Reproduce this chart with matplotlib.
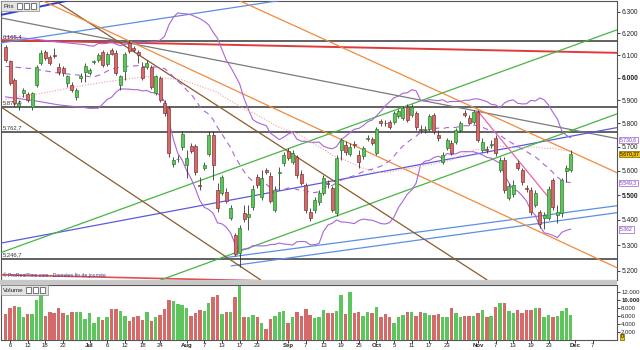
import numpy as np
import pandas as pd
import matplotlib
matplotlib.use("Agg")
import matplotlib.pyplot as plt
import matplotlib.transforms as mtransforms
from matplotlib.patches import Rectangle, FancyBboxPatch
from matplotlib.ticker import NullLocator

plt.rcParams['font.family'] = ['Liberation Sans', 'DejaVu Sans']

# ---------------- data ----------------
opens = [6138, 6076, 5991, 5875, 5933, 5929, 5871, 5969, 6067, 6116,
         6093, 6102, 6049, 6044, 5978, 5969, 5916, 5996, 6027, 6022,
         6069, 6080, 6116, 6062, 6125, 6111, 5969, 6031, 6156, 6134,
         6116, 6049, 6049, 6049, 5933, 5996, 5888, 5867, 5629, 5647,
         5701, 5625, 5705, 5705, 5543, 5612, 5671, 5752, 5522, 5510,
         5514, 5408, 5341, 5271, 5429, 5412, 5453, 5576, 5494, 5604,
         5580, 5441, 5592, 5633, 5684, 5637, 5658, 5588, 5543, 5433,
         5441, 5474, 5510, 5551, 5531, 5429, 5688, 5709, 5671, 5714,
         5667, 5662, 5735, 5735, 5675, 5811, 5803, 5807, 5807, 5833,
         5824, 5871, 5837, 5845, 5777, 5773, 5777, 5837, 5752, 5637,
         5696, 5718, 5722, 5773, 5845, 5824, 5807, 5850, 5688, 5690,
         5709, 5739, 5604, 5645, 5490, 5506, 5633, 5604, 5529, 5522,
         5461, 5433, 5408, 5408, 5563, 5421, 5429, 5600, 5604]
highs = [6147, 6080, 5996, 5901, 5955, 5938, 5938, 6058, 6125, 6125,
         6102, 6134, 6067, 6053, 6013, 5982, 5955, 6022, 6067, 6044,
         6080, 6111, 6125, 6116, 6134, 6125, 6013, 6116, 6169, 6142,
         6125, 6071, 6080, 6058, 6013, 6005, 5901, 5875, 5658, 5667,
         5769, 5688, 5718, 5714, 5576, 5637, 5769, 5769, 5551, 5584,
         5531, 5461, 5349, 5380, 5461, 5461, 5543, 5588, 5604, 5612,
         5596, 5539, 5616, 5679, 5696, 5688, 5667, 5604, 5551, 5449,
         5494, 5522, 5584, 5563, 5539, 5667, 5739, 5726, 5718, 5726,
         5688, 5705, 5752, 5743, 5786, 5820, 5816, 5816, 5854, 5863,
         5875, 5884, 5884, 5854, 5794, 5790, 5841, 5845, 5773, 5679,
         5739, 5730, 5782, 5811, 5858, 5837, 5858, 5858, 5739, 5705,
         5730, 5752, 5658, 5658, 5551, 5563, 5645, 5612, 5543, 5535,
         5522, 5441, 5433, 5539, 5571, 5461, 5571, 5625, 5688]
lows = [6071, 5969, 5875, 5858, 5916, 5892, 5858, 5960, 6058, 6080,
        6058, 6089, 6013, 6009, 5960, 5938, 5901, 5982, 5982, 6013,
        6062, 6071, 6049, 6053, 6102, 6013, 5947, 5991, 6111, 6116,
        6067, 5991, 6040, 5951, 5925, 5892, 5833, 5658, 5616, 5637,
        5688, 5571, 5675, 5584, 5522, 5604, 5662, 5563, 5433, 5502,
        5469, 5400, 5259, 5216, 5392, 5361, 5441, 5531, 5482, 5588,
        5469, 5433, 5522, 5621, 5645, 5629, 5571, 5543, 5429, 5396,
        5429, 5461, 5502, 5531, 5433, 5416, 5645, 5667, 5662, 5696,
        5612, 5649, 5726, 5709, 5667, 5790, 5790, 5777, 5799, 5824,
        5816, 5807, 5828, 5773, 5760, 5760, 5769, 5756, 5726, 5629,
        5688, 5667, 5714, 5765, 5828, 5794, 5799, 5722, 5679, 5675,
        5696, 5662, 5596, 5510, 5482, 5494, 5604, 5543, 5514, 5421,
        5453, 5369, 5365, 5400, 5441, 5388, 5412, 5555, 5596]
closes = [6080, 5978, 5888, 5888, 5947, 5901, 5933, 6049, 6111, 6089,
          6067, 6098, 6027, 6022, 6005, 5947, 5947, 6009, 6053, 6036,
          6073, 6102, 6058, 6107, 6107, 6022, 6005, 6107, 6120, 6125,
          6102, 6000, 6067, 5960, 6005, 5901, 5845, 5675, 5645, 5649,
          5756, 5654, 5684, 5596, 5539, 5625, 5752, 5625, 5449, 5576,
          5478, 5449, 5267, 5369, 5404, 5425, 5527, 5543, 5571, 5596,
          5478, 5522, 5596, 5667, 5654, 5675, 5584, 5551, 5441, 5408,
          5482, 5510, 5571, 5547, 5441, 5654, 5730, 5679, 5701, 5709,
          5637, 5696, 5739, 5718, 5777, 5803, 5801, 5786, 5845, 5854,
          5867, 5816, 5871, 5786, 5773, 5775, 5833, 5769, 5739, 5667,
          5730, 5675, 5773, 5803, 5837, 5803, 5850, 5730, 5722, 5688,
          5711, 5675, 5645, 5522, 5539, 5543, 5612, 5555, 5527, 5433,
          5510, 5384, 5421, 5527, 5453, 5433, 5563, 5612, 5670.37]
volume = [6450, 7900, 8500, 8100, 5600, 6400, 6400, 9900, 11600,
          6000, 7000, 6800, 7900, 6800, 6200, 7000, 6900, 6900, 5200,
          6600, 4300, 5800, 5000, 5600, 7600, 7600, 7300, 6000, 4800,
          5600, 6000, 5000, 7000, 4800, 5800, 6300, 7700,
          9900, 9800,
          8900, 8800, 7900, 6000, 6800, 7500, 7300, 9300,
          10600, 11200,
          6400, 7000, 7000,
          10700, 13400,
          5800, 5800, 6200, 5600, 4300, 2700, 5200, 6000, 7000, 7200,
          4300, 5600, 7000, 6000, 7600, 6200, 5400, 5600,
          7400, 6600, 6600, 7200, 11200, 6400, 12000, 6600, 7000, 5950,
          7000, 6800, 8300, 5800, 6500, 5600, 4100, 5600, 6200, 6900,
          7000, 5950, 7000, 6600, 6200, 6100, 6500, 5800,
          5800, 7900, 6800, 5800, 5950, 5950, 6000, 6800, 7400, 5800,
          5950, 8300,
          9300, 9300,
          7300, 6800, 7400, 6800, 7400, 7400, 8000, 7900, 5800, 6200,
          5600, 5900, 7200, 8000, 6100]

# Bollinger (20, 2) / SMA 50 values before enough history
bb_early_idx = [0, 6, 12, 18]
bb_up_early = [6185, 6175, 6160, 6148]
bb_mid_early = [6050, 6040, 6020, 6008]
bb_lo_early = [5915, 5900, 5880, 5868]
sma_early_idx = [0, 8, 16, 24, 32, 40, 48]
sma_early = [5905, 5930, 5960, 5985, 6005, 5990, 5935]

tick_idx = [1, 5, 9, 13, 19, 23, 27, 31, 35, 41, 45, 49, 53, 57, 64, 68,
            72, 76, 80, 84, 88, 92, 96, 100, 107, 111, 115, 119, 123, 129, 133]
tick_lbl = ["6", "12", "18", "22", "Jul", "6", "12", "18", "24", "Aug", "7",
            "13", "17", "23", "Sep", "7", "13", "19", "25", "Oct", "5", "11",
            "17", "23", "Nov", "7", "13", "19", "23", "Dec", "7"]
months = {"Jul", "Aug", "Sep", "Oct", "Nov", "Dec"}

price_ticks = [6300, 6200, 6100, 6000, 5900, 5800, 5700, 5600, 5500, 5400, 5300, 5200]
price_lbl = ["6.300", "6.200", "6.100", "6.000", "5.900", "5.800", "5.700",
             "5.600", "5.500", "5.400", "5.300", "5.200"]
price_bold = {"6.000", "5.500"}
vol_ticks = [2000, 4000, 6000, 8000, 10000, 12000]
vol_lbl = ["2.000", "4.000", "6.000", "8.000", "10.000", "12.000"]

levels = [6165.4, 5872.0, 5762.7, 5246.7]
level_lbl = ["6.165,4", "5.872,0", "5.762,7", "5.246,7"]

# trendlines: (i0, p0, i1, p1)
tl_red = (-1.06, 6169, 138.5, 6111)
tl_red_low = (-1.06, 5185, 57.8, 5162)
tl_gray = (-1.06, 6271, 138.5, 5735)
tl_blue_dark = (-1.06, 6285, 14.8, 6355)
tl_blue_top = (-1.06, 6156, 62.96, 6355)
tl_blue_b1 = (49.2, 5250, 138.5, 5457)
tl_blue_b2 = (51.0, 5219, 138.5, 5429)
tl_midblue = (-1.06, 5308, 138.5, 5782)
tl_green1 = (-1.06, 5271, 138.5, 6216)
tl_green2 = (35.1, 5165, 138.5, 5841)
tl_brown1 = (10.9, 6355, 109.1, 5165)
tl_brown2 = (-1.06, 5871, 57.8, 5165)
tl_orange_up = (52.6, 6355, 138.5, 5592)
tl_orange_low = (7.99, 6355, 138.5, 5212)
tl_pink = (107.1, 5850, 123.4, 5482)

last_labels = [("5.730,6", 5730.6, "purple"), ("5.670,37", 5670.37, "last"),
               ("5.549,3", 5549.3, "purple"), ("5.362", 5362, "purple")]

# ---------------- figure ----------------
W, H = 640, 350
fig = plt.figure(figsize=(6.4, 3.5), dpi=100)
fig.patch.set_facecolor("white")

def fx(x):
    return x / W

def fy(y):
    return 1 - y / H

XL = (-1.06, 138.5)
ax = fig.add_axes([0.0015, fy(280), fx(617) - 0.0015, (280 - 1) / H])
axv = fig.add_axes([0.0015, fy(340), fx(617) - 0.0015, 55 / H])

n = len(closes)
x = np.arange(n)
o = np.array(opens, float); h = np.array(highs, float)
l = np.array(lows, float); c = np.array(closes, float)
up = c >= o

ax.set_yscale("log")
ax.set_xlim(*XL)
ax.set_ylim(5165.0, 6350.1)

# horizontal levels
for lv, lb in zip(levels, level_lbl):
    ax.axhline(lv, color="#555555", lw=1.3, zorder=2)
    ax.text(1.5 / 617 * (XL[1] - XL[0]) + XL[0], lv * 1.0012, lb, fontsize=4.2,
            color="#333333", ha="left", va="bottom", zorder=6)

def tl(seg, color, lw=0.9, ls="-", z=3):
    ax.plot([seg[0], seg[2]], [seg[1], seg[3]], color=color, lw=lw, ls=ls,
            zorder=z, solid_capstyle="butt")

tl(tl_red, "#e03a3a", 1.4)
tl(tl_red_low, "#e05050", 1.2)
tl(tl_gray, "#7a7a7a", 0.9)
tl(tl_blue_dark, "#2a3fd0", 1.4)
tl(tl_blue_top, "#5b8fe6", 0.9)
tl(tl_blue_b1, "#5b8fe6", 0.9)
tl(tl_blue_b2, "#5b8fe6", 0.9)
tl(tl_midblue, "#5a5ae0", 0.9)
tl(tl_green1, "#45b545", 0.9)
tl(tl_green2, "#45b545", 0.9)
tl(tl_brown1, "#8b5a2b", 0.9)
tl(tl_brown2, "#8b5a2b", 0.9)
tl(tl_orange_up, "#f08a3c", 0.9)
tl(tl_orange_low, "#f08a3c", 0.9)
tl(tl_pink, "#e866a8", 0.9)

# indicators
cs = pd.Series(c)
mid = cs.rolling(20).mean()
sd = cs.rolling(20).std(ddof=0)
bup = mid + 2 * sd
blo = mid - 2 * sd
sma = cs.rolling(50).mean()
bx = list(bb_early_idx) + list(range(19, n))
ax.plot(bx, list(bb_up_early) + list(bup[19:]), color="#a865d8", lw=0.8, zorder=4)
ax.plot(bx, list(bb_lo_early) + list(blo[19:]), color="#a865d8", lw=0.8, zorder=4)
ax.plot(bx, list(bb_mid_early) + list(mid[19:]), color="#a865d8", lw=0.8,
        ls=(0, (5, 4)), zorder=4)
sx = list(sma_early_idx) + list(range(49, n))
ax.plot(sx, list(sma_early) + list(sma[49:]), color="#f2a0a0", lw=0.8,
        ls=(0, (1, 1.5)), zorder=4)

# candles
gcol, rcol = "#5cc65c", "#d46a6a"
gedge, redge = "#2f7f2f", "#8a3434"
for i in range(n):
    col = gcol if up[i] else rcol
    ec = gedge if up[i] else redge
    ax.vlines(i, l[i], h[i], color="#333333", lw=0.6, zorder=5)
    lo_b, hi_b = min(o[i], c[i]), max(o[i], c[i])
    if hi_b - lo_b < 2:
        ax.hlines((lo_b + hi_b) / 2, i - 0.35, i + 0.35, color="#111111", lw=0.8, zorder=6)
    else:
        ax.add_patch(Rectangle((i - 0.34, lo_b), 0.68, hi_b - lo_b, fc=col,
                               ec=ec, lw=0.5, zorder=6))

# axes styling main
ax.set_xticks([])
ax.yaxis.tick_right()
ax.yaxis.set_minor_locator(NullLocator())
ax.set_yticks(price_ticks)
ax.set_yticklabels(price_lbl)
for t in ax.get_yticklabels():
    t.set_fontsize(4.8)
    t.set_color("#222222")
    if t.get_text() in price_bold:
        t.set_fontweight("bold")
ax.tick_params(axis="y", length=2.5, width=0.6, pad=1.0, colors="#222222")
for s in ax.spines.values():
    s.set_color("#555555"); s.set_linewidth(0.8)

# right-side value boxes
trans = mtransforms.blended_transform_factory(ax.transAxes, ax.transData)
for txt, val, kind in last_labels:
    if kind == "last":
        bb = dict(boxstyle="square,pad=0.12", fc="#f2c200", ec="#7a6000", lw=0.5)
        tc = "#000000"
    else:
        bb = dict(boxstyle="square,pad=0.12", fc="white", ec="#9a5cd0", lw=0.5)
        tc = "#7a3cc0"
    ax.text(1.005, val, txt, transform=trans, fontsize=3.7, color=tc, ha="left",
            va="center", bbox=bb, clip_on=False, zorder=10)

ax.text(0.003, 5172, "© ProRealTime.com - Données fin de journée",
        transform=mtransforms.blended_transform_factory(ax.transAxes, ax.transData),
        fontsize=3.6, color="#3a3a8a", ha="left", va="bottom", zorder=7)

# volume
axv.set_xlim(*XL)
axv.set_ylim(0, 13660)
vcols = [gcol if u else rcol for u in up]
axv.bar(x, volume, width=0.78, color=vcols, edgecolor="none", zorder=3)
axv.yaxis.tick_right()
axv.set_yticks(vol_ticks)
axv.set_yticklabels(vol_lbl)
for t in axv.get_yticklabels():
    t.set_fontsize(4.3)
    if t.get_text() == "10.000":
        t.set_fontweight("bold")
axv.tick_params(axis="y", length=2.2, width=0.6, pad=0.8, colors="#222222")
axv.set_xticks(tick_idx)
axv.set_xticklabels(tick_lbl)
for t in axv.get_xticklabels():
    t.set_fontsize(4.3)
    t.set_color("#222222")
    if t.get_text() in months:
        t.set_fontweight("bold")
axv.tick_params(axis="x", length=1.8, width=0.6, pad=0.6, colors="#222222")
for s in axv.spines.values():
    s.set_color("#555555"); s.set_linewidth(0.8)
axv.text(1.006, 800, "0", transform=mtransforms.blended_transform_factory(axv.transAxes, axv.transData),
         fontsize=3.7, ha="left", va="center", color="#000000", clip_on=False,
         bbox=dict(boxstyle="square,pad=0.12", fc="#f2c200", ec="#7a6000", lw=0.5))

# separator band
fig.patches.append(Rectangle((0, fy(285)), fx(617), 5 / H, transform=fig.transFigure,
                             fc="#c8c8c8", ec="none", zorder=0))

# panel header boxes
def header(x0, y0, w, label):
    fig.patches.append(FancyBboxPatch((fx(x0), fy(y0 + 10)), w / W, 10 / H,
                                      boxstyle="square,pad=0", transform=fig.transFigure,
                                      fc="#e4e4e4", ec="#8a8a8a", lw=0.5, zorder=20))
    fig.text(fx(x0 + 2), fy(y0 + 5), label, fontsize=4.5, color="#222222",
             ha="left", va="center", zorder=21)
    for k in range(3):
        xx = x0 + w - 22 + k * 7
        fig.patches.append(Rectangle((fx(xx), fy(y0 + 8)), 5 / W, 6 / H,
                                     transform=fig.transFigure, fc="white",
                                     ec="#444444", lw=0.5, zorder=21))

header(1, 1, 38, "Prix")
header(1, 285, 47, "Volume")

fig.savefig("out.png", dpi=100)
